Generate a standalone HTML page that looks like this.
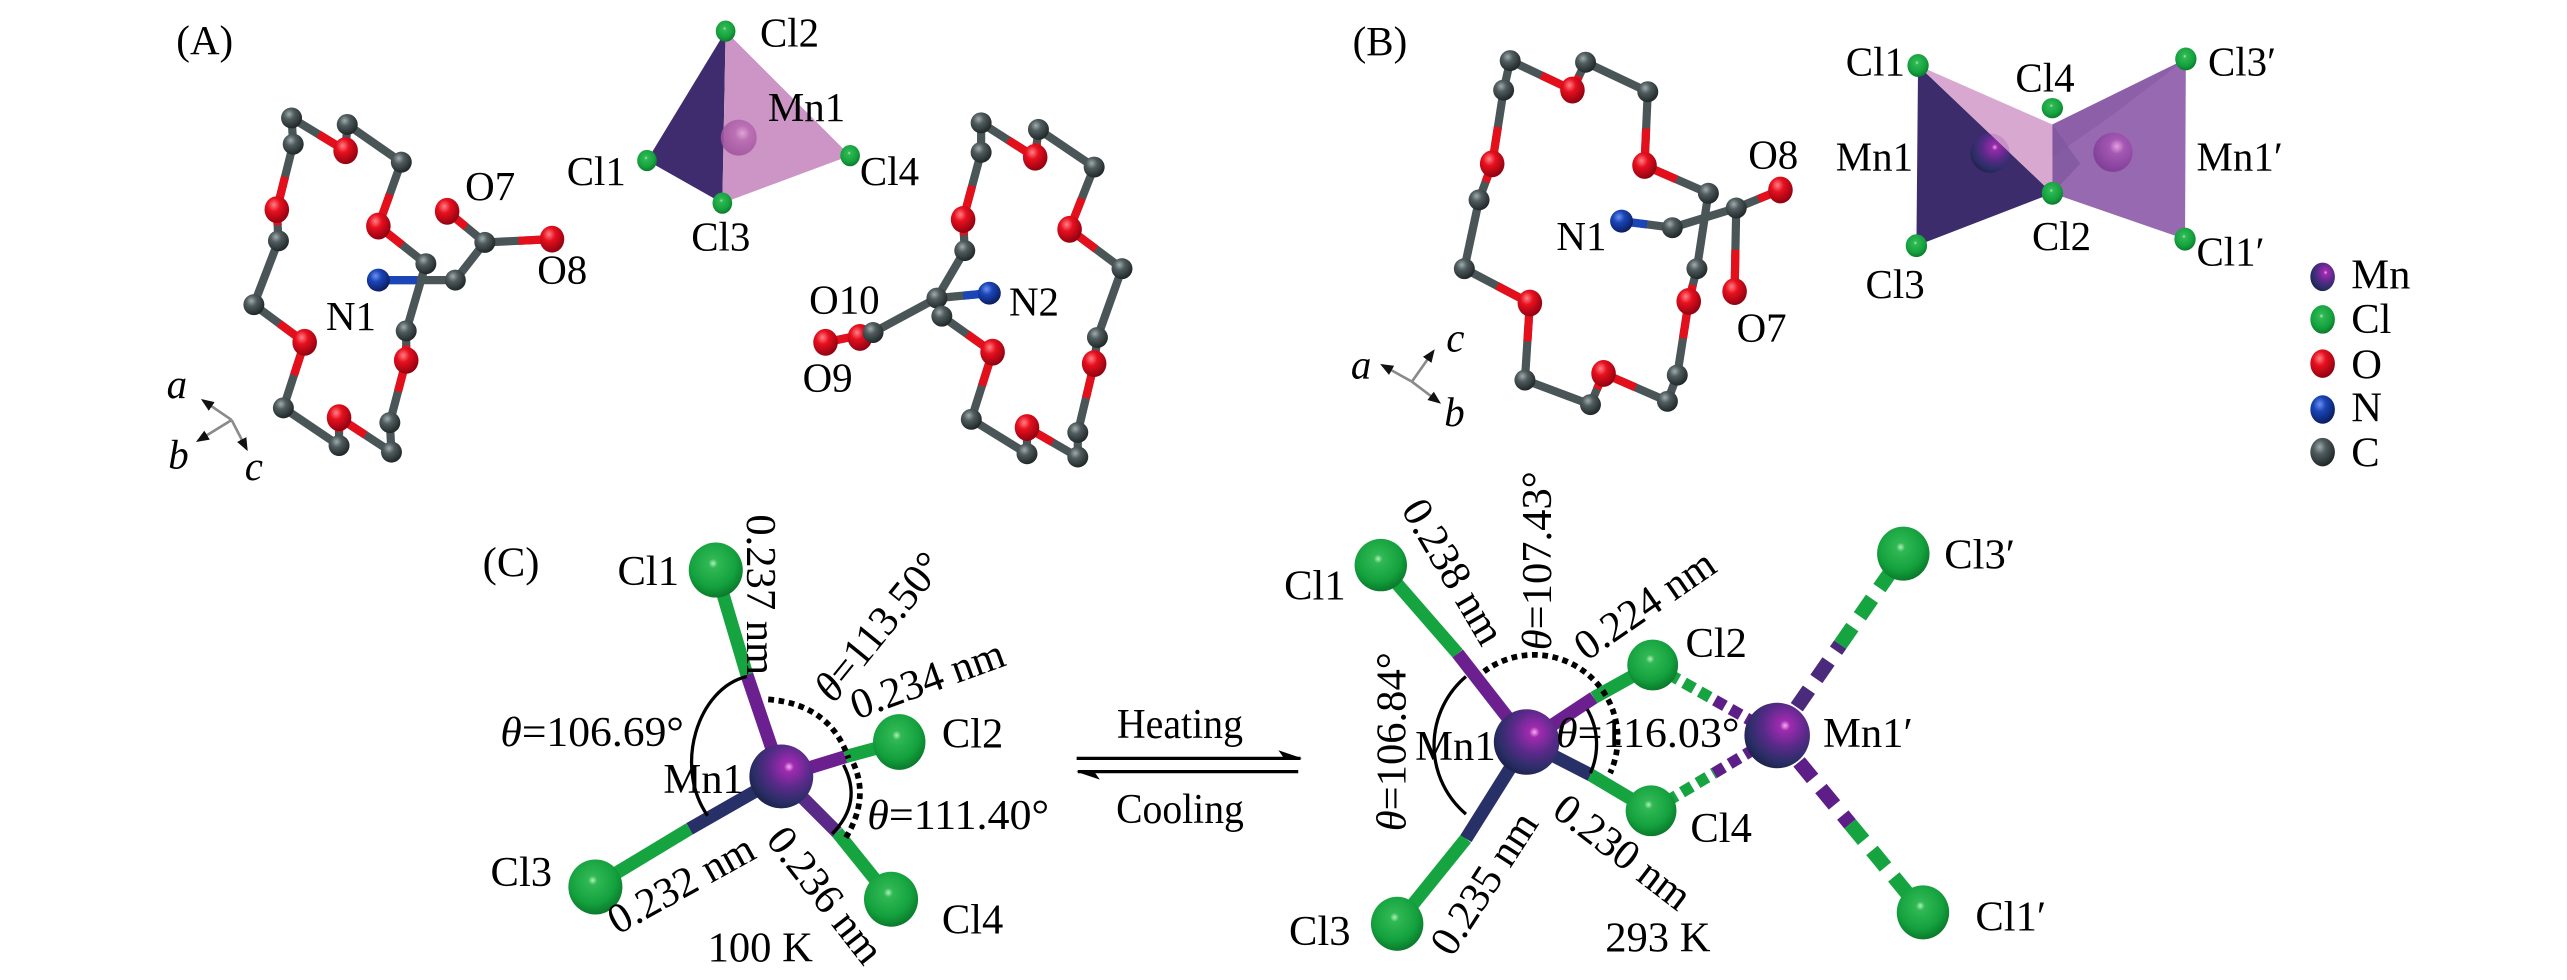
<!DOCTYPE html>
<html><head><meta charset="utf-8"><style>
html,body{margin:0;padding:0;background:#fff;}
svg{display:block;}
svg text{font-family:"Liberation Serif","Times New Roman","DejaVu Serif",serif;fill:#000;}
</style></head><body>
<svg xmlns="http://www.w3.org/2000/svg" width="2567" height="980" viewBox="0 0 1567.2 598.3" preserveAspectRatio="none" font-family="'Liberation Serif', 'Times New Roman', serif">
<defs>
<radialGradient id="gC" cx="0.38" cy="0.32" r="0.72"><stop offset="0" stop-color="#a2acae"/><stop offset="0.35" stop-color="#505c5e"/><stop offset="1" stop-color="#1c2324"/></radialGradient>
<radialGradient id="gO" cx="0.38" cy="0.32" r="0.72"><stop offset="0" stop-color="#ff8088"/><stop offset="0.35" stop-color="#e8101e"/><stop offset="1" stop-color="#8a0010"/></radialGradient>
<radialGradient id="gN" cx="0.38" cy="0.32" r="0.72"><stop offset="0" stop-color="#7090f0"/><stop offset="0.35" stop-color="#1a46b8"/><stop offset="1" stop-color="#0a1a5a"/></radialGradient>
<radialGradient id="gCl" cx="0.45" cy="0.38" r="0.7"><stop offset="0" stop-color="#b0f0b8"/><stop offset="0.12" stop-color="#30b854"/><stop offset="0.6" stop-color="#14a23e"/><stop offset="1" stop-color="#066a24"/></radialGradient>
<radialGradient id="gMn" cx="0.62" cy="0.35" r="0.78"><stop offset="0" stop-color="#f4b0f0"/><stop offset="0.1" stop-color="#a02ab0"/><stop offset="0.42" stop-color="#5a2a8a"/><stop offset="0.72" stop-color="#2a2e66"/><stop offset="1" stop-color="#141a38"/></radialGradient>
<radialGradient id="gMnB" cx="0.6" cy="0.35" r="0.75"><stop offset="0" stop-color="#e8a0e0"/><stop offset="0.25" stop-color="#a458b4"/><stop offset="1" stop-color="#7a3a92"/></radialGradient>
<radialGradient id="gMnA" cx="0.6" cy="0.38" r="0.7"><stop offset="0" stop-color="#e0a8d8"/><stop offset="0.3" stop-color="#b868b0"/><stop offset="1" stop-color="#9a4e98"/></radialGradient>
<marker id="ah" viewBox="0 0 10 10" refX="8" refY="5" markerWidth="5" markerHeight="5" orient="auto"><path d="M0 1L10 5L0 9z" fill="#111"/></marker>
</defs>
<rect x="0" y="0" width="1567.2" height="598.3" fill="#fff"/>

<!-- ================= PANEL A ================= -->
<text x="125" y="33" font-size="25" text-anchor="middle">(A)</text>

<!-- left ring -->
<path d="M179 88L178 72 M178 72L211 92 M211 92L212 76 M212 76L245 99 M245 99L231 138 M231 138L260 161 M260 161L248 202 M248 202L248 220 M248 220L238 258 M238 258L239 276 M239 276L207 255 M207 255L207 272 M207 272L173 249 M173 249L186 209 M186 209L155 186 M155 186L170 147 M170 147L169 128 M169 128L179 88 M231 171L278 171 M278 171L296 148 M296 148L273 129 M296 148L337 146" stroke="#4a5557" stroke-width="5" fill="none" stroke-linecap="round"/>
<path d="M211 92L194.5 82 M211 92L211.5 84 M231 138L238 118.5 M231 138L245.5 149.5 M248 220L248 211 M248 220L243 239 M207 255L223 265.5 M207 255L207 263.5 M186 209L179.5 229 M186 209L170.5 197.5 M169 128L169.5 137.5 M169 128L174 108 M273 129L284.5 138.5 M337 146L316.5 147" stroke="#e3101c" stroke-width="5" fill="none"/>
<path d="M231 171L254.5 171" stroke="#1a46b8" stroke-width="5"/>
<g fill="url(#gO)">
<ellipse cx="211" cy="92" rx="7.5" ry="8.2"/><ellipse cx="169" cy="128" rx="7.5" ry="8.2"/><ellipse cx="231" cy="138" rx="7.5" ry="8.2"/><ellipse cx="273" cy="129" rx="7.5" ry="8.2"/><ellipse cx="337" cy="146" rx="7.5" ry="8.2"/><ellipse cx="186" cy="209" rx="7.5" ry="8.2"/><ellipse cx="248" cy="220" rx="7.5" ry="8.2"/><ellipse cx="207" cy="255" rx="7.5" ry="8.2"/>
</g>
<g fill="url(#gC)">
<circle cx="178" cy="72" r="6.4"/><circle cx="179" cy="88" r="6.4"/><circle cx="212" cy="76" r="6.4"/><circle cx="245" cy="99" r="6.4"/><circle cx="170" cy="147" r="6.4"/><circle cx="260" cy="161" r="6.4"/><circle cx="278" cy="171" r="6.4"/><circle cx="296" cy="148" r="6.4"/><circle cx="155" cy="186" r="6.4"/><circle cx="248" cy="202" r="6.4"/><circle cx="173" cy="249" r="6.4"/><circle cx="238" cy="258" r="6.4"/><circle cx="207" cy="272" r="6.4"/><circle cx="239" cy="276" r="6.4"/>
</g>
<ellipse cx="231" cy="171" rx="7" ry="7" fill="url(#gN)"/>

<!-- tetrahedron A -->
<polygon points="443,19 395,98 441,124" fill="#3f2c6e"/>
<polygon points="443,19 441,124 519,95" fill="#cc95c6"/>
<circle cx="451" cy="84" r="11" fill="url(#gMnA)" opacity="0.85"/>
<g fill="url(#gCl)">
<ellipse cx="443" cy="19" rx="6" ry="6.5"/><ellipse cx="395" cy="98" rx="6" ry="6.5"/><ellipse cx="519" cy="95" rx="6" ry="6.5"/><ellipse cx="441" cy="124" rx="6" ry="6.5"/>
</g>

<!-- right ring A -->
<path d="M599 93L599 75 M599 75L632 96 M632 96L634 79 M634 79L668 102 M668 102L653 140 M653 140L685 164 M685 164L670 206 M670 206L668 222 M668 222L658 264 M658 264L658 279 M658 279L627 261 M627 261L627 277 M627 277L593 256 M593 256L606 215 M606 215L575 193 M575 193L572 182 M572 182L589 153 M589 153L588 134 M588 134L599 93 M572 182L604 179 M572 182L533 203 M533 203L525 206 M533 203L504 209" stroke="#4a5557" stroke-width="5" fill="none" stroke-linecap="round"/>
<path d="M632 96L615.5 85.5 M632 96L633 87.5 M653 140L660.5 121 M653 140L669 152 M668 222L669 214 M668 222L663 243 M627 261L642.5 270 M627 261L627 269 M606 215L590.5 204 M606 215L599.5 235.5 M588 134L588.5 143.5 M588 134L593.5 113.5 M504 209L518.5 206" stroke="#e3101c" stroke-width="5" fill="none"/>
<path d="M604 179L588 180.5" stroke="#1a46b8" stroke-width="5"/>
<g fill="url(#gO)">
<ellipse cx="632" cy="96" rx="7.5" ry="8.2"/><ellipse cx="588" cy="134" rx="7.5" ry="8.2"/><ellipse cx="653" cy="140" rx="7.5" ry="8.2"/><ellipse cx="525" cy="206" rx="7.5" ry="8.2"/><ellipse cx="504" cy="209" rx="7.5" ry="8.2"/><ellipse cx="606" cy="215" rx="7.5" ry="8.2"/><ellipse cx="668" cy="222" rx="7.5" ry="8.2"/><ellipse cx="627" cy="261" rx="7.5" ry="8.2"/>
</g>
<g fill="url(#gC)">
<circle cx="599" cy="75" r="6.4"/><circle cx="634" cy="79" r="6.4"/><circle cx="599" cy="93" r="6.4"/><circle cx="668" cy="102" r="6.4"/><circle cx="589" cy="153" r="6.4"/><circle cx="685" cy="164" r="6.4"/><circle cx="572" cy="182" r="6.4"/><circle cx="575" cy="193" r="6.4"/><circle cx="533" cy="203" r="6.4"/><circle cx="670" cy="206" r="6.4"/><circle cx="593" cy="256" r="6.4"/><circle cx="658" cy="264" r="6.4"/><circle cx="627" cy="277" r="6.4"/><circle cx="658" cy="279" r="6.4"/>
</g>
<ellipse cx="604" cy="179" rx="7" ry="7" fill="url(#gN)"/>

<!-- A labels -->
<g font-size="25" font-family="'Liberation Serif', serif">
<text x="464" y="28.5">Cl2</text>
<text x="516" y="74" text-anchor="end">Mn1</text>
<text x="346" y="113">Cl1</text>
<text x="525" y="113">Cl4</text>
<text x="422" y="153">Cl3</text>
<text x="284" y="122">O7</text>
<text x="328" y="173">O8</text>
<text x="199" y="201.5">N1</text>
<text x="494" y="191.5">O10</text>
<text x="616" y="192.5">N2</text>
<text x="490" y="239">O9</text>
</g>
<!-- axes A -->
<g stroke="#8a8a8a" stroke-width="1.6" marker-end="url(#ah)">
<line x1="141.4" y1="256.4" x2="124" y2="244.5"/>
<line x1="141.4" y1="256.4" x2="121" y2="269"/>
<line x1="141.4" y1="256.4" x2="150.5" y2="274"/>
</g>
<g font-size="25" font-style="italic" text-anchor="middle" font-family="'Liberation Serif', serif">
<text x="108" y="243">a</text>
<text x="109" y="286">b</text>
<text x="155" y="293">c</text>
</g>

<!-- ================= PANEL B ================= -->
<text x="842.5" y="33.5" font-size="25" text-anchor="middle">(B)</text>
<path d="M918 55L922 37 M922 37L960 55 M960 55L968 38 M968 38L1006 56 M1006 56L1004 101 M1004 101L1043 118 M1043 118L1036 164 M1036 164L1031 184 M1031 184L1024 229 M1024 229L1018 245 M1018 245L979 228 M979 228L971 247 M971 247L931 232 M931 232L934 185 M934 185L894 164 M894 164L903 122 M903 122L911 100 M911 100L918 55 M990 135L1021 139 M1021 139L1060 127 M1060 127L1087 116 M1060 127L1059 178" stroke="#4a5557" stroke-width="5" fill="none" stroke-linecap="round"/>
<path d="M960 55L941 46 M960 55L964 46.5 M1004 101L1005 78.5 M1004 101L1023.5 109.5 M1031 184L1033.5 174 M1031 184L1027.5 206.5 M979 228L998.5 236.5 M979 228L975 237.5 M934 185L932.5 208.5 M934 185L914 174.5 M911 100L907 111 M911 100L914.5 77.5 M1087 116L1073.5 121.5 M1059 178L1059.5 152.5" stroke="#e3101c" stroke-width="5" fill="none"/>
<path d="M990 135L1005.5 137" stroke="#1a46b8" stroke-width="5"/>
<g fill="url(#gO)">
<ellipse cx="960" cy="55" rx="7.5" ry="8.2"/><ellipse cx="911" cy="100" rx="7.5" ry="8.2"/><ellipse cx="1004" cy="101" rx="7.5" ry="8.2"/><ellipse cx="1087" cy="116" rx="7.5" ry="8.2"/><ellipse cx="1059" cy="178" rx="7.5" ry="8.2"/><ellipse cx="934" cy="185" rx="7.5" ry="8.2"/><ellipse cx="1031" cy="184" rx="7.5" ry="8.2"/><ellipse cx="979" cy="228" rx="7.5" ry="8.2"/>
</g>
<g fill="url(#gC)">
<circle cx="922" cy="37" r="6.4"/><circle cx="918" cy="55" r="6.4"/><circle cx="968" cy="38" r="6.4"/><circle cx="1006" cy="56" r="6.4"/><circle cx="903" cy="122" r="6.4"/><circle cx="1043" cy="118" r="6.4"/><circle cx="1060" cy="127" r="6.4"/><circle cx="1021" cy="139" r="6.4"/><circle cx="894" cy="164" r="6.4"/><circle cx="1036" cy="164" r="6.4"/><circle cx="931" cy="232" r="6.4"/><circle cx="1024" cy="229" r="6.4"/><circle cx="971" cy="247" r="6.4"/><circle cx="1018" cy="245" r="6.4"/>
</g>
<ellipse cx="990" cy="135" rx="7" ry="7" fill="url(#gN)"/>
<g font-size="25" text-anchor="middle" font-family="'Liberation Serif', serif">
<text x="1082.6" y="103">O8</text>
<text x="965.5" y="152.6">N1</text>
<text x="1075.5" y="208.6">O7</text>
</g>
<!-- axes B -->
<g stroke="#8a8a8a" stroke-width="1.6" marker-end="url(#ah)">
<line x1="862" y1="233" x2="844" y2="223"/>
<line x1="862" y1="233" x2="875" y2="214.5"/>
<line x1="862" y1="233" x2="878.5" y2="245.5"/>
</g>
<g font-size="25" font-style="italic" text-anchor="middle" font-family="'Liberation Serif', serif">
<text x="831" y="231">a</text>
<text x="888.5" y="214.6">c</text>
<text x="888" y="260">b</text>
</g>

<!-- polyhedra B -->
<polygon points="1253,76 1334.5,36 1334,146 1253,118" fill="#9669b0"/>
<polygon points="1253,76 1334.5,36 1290,70 1253,96" fill="#8a5da6" opacity="0.8"/>
<polygon points="1253,76 1253,118 1270,100" fill="#7e559e" opacity="0.7"/>
<polygon points="1171,40 1170,150 1253,118" fill="#3d2c6b"/>
<circle cx="1290" cy="93" r="12" fill="url(#gMnB)"/>
<circle cx="1215" cy="93.5" r="12" fill="url(#gMn)" opacity="0.9"/>
<polygon points="1171,40 1253,76 1253,118" fill="#d39ccb" opacity="0.88"/>
<g fill="url(#gCl)">
<ellipse cx="1171" cy="40" rx="6.5" ry="7"/><ellipse cx="1253" cy="66" rx="6.5" ry="6.2"/><ellipse cx="1334.5" cy="36" rx="6.5" ry="7"/><ellipse cx="1253" cy="118" rx="6.5" ry="7"/><ellipse cx="1170" cy="150" rx="6.5" ry="7"/><ellipse cx="1334" cy="146" rx="6.5" ry="7"/>
</g>
<g font-size="25" font-family="'Liberation Serif', serif">
<text x="1163" y="46" text-anchor="end">Cl1</text>
<text x="1248.5" y="56" text-anchor="middle">Cl4</text>
<text x="1348" y="46">Cl3′</text>
<text x="1168" y="104" text-anchor="end">Mn1</text>
<text x="1341" y="104">Mn1′</text>
<text x="1258.6" y="152.6" text-anchor="middle">Cl2</text>
<text x="1157" y="182" text-anchor="middle">Cl3</text>
<text x="1341" y="162">Cl1′</text>
</g>

<!-- legend -->
<ellipse cx="1418" cy="169" rx="7.5" ry="8.7" fill="url(#gMn)"/>
<ellipse cx="1418" cy="195" rx="7.5" ry="8.7" fill="url(#gCl)"/>
<ellipse cx="1418" cy="222" rx="7.5" ry="8.7" fill="url(#gO)"/>
<ellipse cx="1418" cy="250" rx="7.5" ry="8.7" fill="url(#gN)"/>
<ellipse cx="1418" cy="276" rx="7.5" ry="8.7" fill="url(#gC)"/>
<g font-size="26" font-family="'Liberation Serif', serif">
<text x="1435.5" y="176">Mn</text>
<text x="1435.5" y="203.4">Cl</text>
<text x="1435.5" y="231">O</text>
<text x="1435.5" y="257.3">N</text>
<text x="1435.5" y="284.8">C</text>
</g>

<!-- ================= PANEL C ================= -->
<text x="312" y="352" font-size="26" text-anchor="middle">(C)</text>

<!-- left molecule bonds -->
<g stroke-width="8" fill="none">
<path d="M456 412L437 348" stroke="#16a440"/>
<path d="M477 474L456 412" stroke="#6c2090"/>
<path d="M516 462L549 453" stroke="#16a440"/>
<path d="M477 474L516 462" stroke="#6c2090"/>
<path d="M421 506L363 541" stroke="#16a440"/>
<path d="M477 474L421 506" stroke="#283068"/>
<path d="M511 508L544 549" stroke="#16a440"/>
<path d="M477 474L511 508" stroke="#5a2a88"/>
</g>
<g fill="url(#gCl)">
<ellipse cx="437" cy="348" rx="16.5" ry="16.8"/>
<ellipse cx="549" cy="453" rx="16" ry="17"/>
<ellipse cx="363.5" cy="541.5" rx="16.5" ry="16.8"/>
<ellipse cx="544" cy="549" rx="16.5" ry="16.8"/>
</g>
<circle cx="477" cy="474" r="19.5" fill="url(#gMn)"/>
<!-- arcs -->
<path d="M456 413C426 420 411 468 432 498" stroke="#000" stroke-width="2" fill="none"/>
<path d="M515 467Q527 490 508 509" stroke="#000" stroke-width="2" fill="none"/>
<path d="M469 427Q507 430 518 463 M521 466Q531 488 516 512" stroke="#000" stroke-width="3.5" stroke-dasharray="3.5 2.8" fill="none"/>

<g font-size="26" font-family="'Liberation Serif', serif">
<text x="377" y="357">Cl1</text>
<text x="575" y="456.5">Cl2</text>
<text x="299.5" y="541">Cl3</text>
<text x="575" y="570">Cl4</text>
<text x="405" y="484">Mn1</text>
<text x="305.5" y="455.5" textLength="112" lengthAdjust="spacingAndGlyphs"><tspan font-style="italic">θ</tspan>=106.69°</text>
<text x="529.5" y="506" textLength="111" lengthAdjust="spacingAndGlyphs"><tspan font-style="italic">θ</tspan>=111.40°</text>
<text x="432" y="587">100 K</text>
<text transform="translate(456,314) rotate(90)">0.237 nm</text>
<text transform="translate(509,430) rotate(-51)"><tspan font-style="italic">θ</tspan>=113.50°</text>
<text transform="translate(523,439.5) rotate(-20)">0.234 nm</text>
<text transform="translate(377,571) rotate(-29)">0.232 nm</text>
<text transform="translate(467,513) rotate(52)">0.236 nm</text>
</g>

<!-- equilibrium arrows -->
<line x1="657.3" y1="463" x2="794" y2="463" stroke="#000" stroke-width="2"/>
<polygon points="795,463 780.5,458 784,463" fill="#000"/>
<line x1="658" y1="471.1" x2="792.6" y2="471.1" stroke="#000" stroke-width="2"/>
<polygon points="657,471.1 671.5,476 668,471.1" fill="#000"/>
<text x="720.4" y="450.7" font-size="26" text-anchor="middle" textLength="77" lengthAdjust="spacingAndGlyphs">Heating</text>
<text x="720.4" y="502.6" font-size="26" text-anchor="middle" textLength="78" lengthAdjust="spacingAndGlyphs">Cooling</text>

<!-- right molecule -->
<g stroke-width="8" fill="none">
<path d="M890 399L843 345" stroke="#16a440"/>
<path d="M932 453L890 399" stroke="#6c2090"/>
<path d="M895 512L853 564" stroke="#16a440"/>
<path d="M932 453L895 512" stroke="#283068"/>
<path d="M973 426L1009 406" stroke="#16a440"/>
<path d="M932 453L973 426" stroke="#6c2090"/>
<path d="M971 473L1008 495" stroke="#16a440"/>
<path d="M932 453L971 473" stroke="#283068"/>
</g>
<!-- dashed bridging bonds -->
<g fill="none" stroke-width="7" stroke-dasharray="7 4">
<path d="M1009 406L1047 427.5" stroke="#16a440"/>
<path d="M1047 427.5L1085 449" stroke="#5e1e88"/>
<path d="M1008 495L1046.5 472" stroke="#16a440"/>
<path d="M1046.5 472L1085 449" stroke="#5e1e88"/>
</g>
<g fill="none" stroke-width="9" stroke-dasharray="13 8">
<path d="M1085 449L1123.5 393.5" stroke="#4a2a7a"/>
<path d="M1123.5 393.5L1162 338" stroke="#16a440"/>
<path d="M1085 449L1129.5 503" stroke="#5e1e88"/>
<path d="M1129.5 503L1174 557" stroke="#16a440"/>
</g>
<g fill="url(#gCl)">
<ellipse cx="843" cy="345" rx="16" ry="16"/>
<ellipse cx="853" cy="564" rx="16" ry="16.5"/>
<ellipse cx="1009" cy="406" rx="15.5" ry="15.5"/>
<ellipse cx="1008" cy="495" rx="15.5" ry="15.5"/>
<ellipse cx="1162" cy="338" rx="16" ry="16.5"/>
<ellipse cx="1174" cy="557" rx="16" ry="16.5"/>
</g>
<circle cx="932" cy="453" r="20" fill="url(#gMn)"/>
<circle cx="1085" cy="449" r="20" fill="url(#gMn)"/>
<path d="M895 413A55 55 0 0 0 895 497" stroke="#000" stroke-width="2" fill="none"/>
<path d="M969 433A43 43 0 0 1 971 472" stroke="#000" stroke-width="2" fill="none"/>
<path d="M906 410A51 51 0 0 1 983 472" stroke="#000" stroke-width="3.5" stroke-dasharray="3.5 2.8" fill="none"/>

<g font-size="26" font-family="'Liberation Serif', serif">
<text x="784" y="366">Cl1</text>
<text x="787" y="577">Cl3</text>
<text x="1029" y="401">Cl2</text>
<text x="1032" y="514">Cl4</text>
<text x="864" y="464">Mn1</text>
<text x="950" y="456" textLength="112" lengthAdjust="spacingAndGlyphs"><tspan font-style="italic">θ</tspan>=116.03°</text>
<text x="1113" y="456">Mn1′</text>
<text x="1187" y="347">Cl3′</text>
<text x="1206" y="568">Cl1′</text>
<text x="980" y="581">293 K</text>
<text transform="translate(855,311) rotate(59.5)">0.238 nm</text>
<text transform="translate(947,397) rotate(-90)"><tspan font-style="italic">θ</tspan>=107.43°</text>
<text transform="translate(968.5,404) rotate(-34.5)">0.224 nm</text>
<text transform="translate(858,507.5) rotate(-90)"><tspan font-style="italic">θ</tspan>=106.84°</text>
<text transform="translate(886.5,585) rotate(-57)">0.235 nm</text>
<text transform="translate(946.5,497) rotate(37.5)">0.230 nm</text>
</g>
</svg>
</body></html>
